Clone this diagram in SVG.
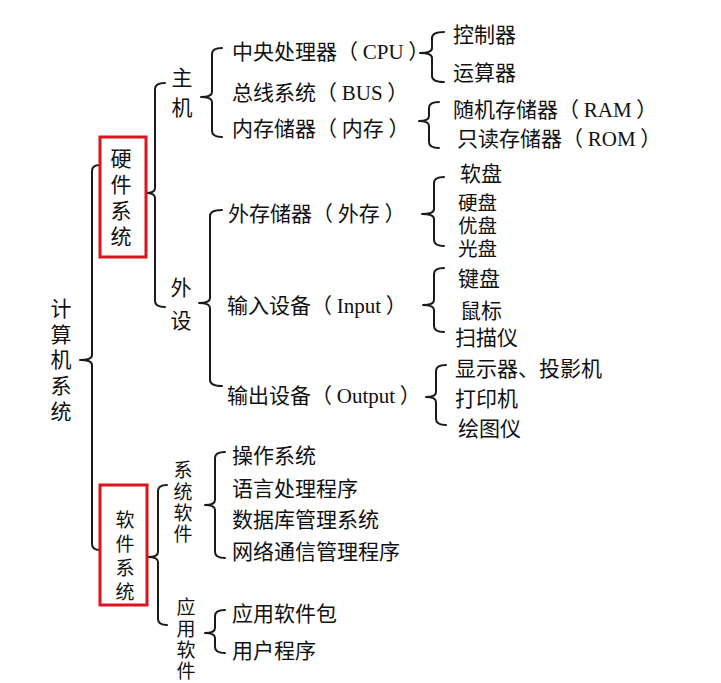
<svg xmlns="http://www.w3.org/2000/svg" width="721" height="683" viewBox="0 0 721 683">
<style>
.b{fill:none;stroke:#1a1a1a;stroke-width:2;stroke-linecap:round;stroke-linejoin:round}
.box{fill:none;stroke:#d9141c;stroke-width:3}
text{font-family:"Noto Sans CJK SC","Noto Sans CJK TC",sans-serif;font-size:21px;fill:#111}
.vt{writing-mode:vertical-rl}
.s{font-size:19px}
.t{font-size:19.5px}
.lat{font-family:"Liberation Serif",serif}
</style>
<rect width="721" height="683" fill="#fff"/>
<g id="connectors">
<path class="b" d="M100,165 Q92,165 92,171 L92,355 Q92,360 80,360 Q92,360 92,365 L92,544 Q92,550 100,550"/>
<path class="b" d="M165,83 Q155,83 155,89 L155,188 Q155,193 146,193 Q155,193 155,198 L155,301 Q155,307 165,307"/>
<path class="b" d="M222,48 Q212,48 212,54 L212,92 Q212,97 201,97 Q212,97 212,102 L212,131 Q212,137 222,137"/>
<path class="b" d="M444,32 Q432,32 432,38 L432,48 Q432,53 420,53 Q432,53 432,58 L432,76 Q432,82 444,82"/>
<path class="b" d="M439,102 Q429,102 429,108 L429,116 Q429,121 419,121 Q429,121 429,126 L429,142 Q429,148 439,148"/>
<path class="b" d="M222,210 Q210,210 210,216 L210,298 Q210,303 199,303 Q210,303 210,308 L210,380 Q210,386 222,386"/>
<path class="b" d="M444,177 Q434,177 434,183 L434,209 Q434,214 422,214 Q434,214 434,219 L434,240 Q434,246 444,246"/>
<path class="b" d="M444,268 Q434,268 434,274 L434,300 Q434,305 423,305 Q434,305 434,310 L434,326 Q434,332 444,332"/>
<path class="b" d="M446,365 Q436,365 436,371 L436,392 Q436,397 426,397 Q436,397 436,402 L436,419 Q436,425 446,425"/>
<path class="b" d="M167,485 Q158,485 158,491 L158,552 Q158,557 148,557 Q158,557 158,562 L158,619 Q158,625 167,625"/>
<path class="b" d="M225,452 Q215,452 215,458 L215,500 Q215,505 205,505 Q215,505 215,510 L215,552 Q215,558 225,558"/>
<path class="b" d="M225,610 Q215,610 215,616 L215,628 Q215,633 205,633 Q215,633 215,638 L215,647 Q215,653 225,653"/>
</g>
<g id="root"><text class="vt" x="61" y="297.5" letter-spacing="4.7">计算机系统</text></g>
<g id="hardware"><rect class="box" x="100" y="137" width="46" height="120"/><text class="vt" x="121" y="147.5" letter-spacing="5">硬件系统</text></g>
<g id="software"><rect class="box" x="100" y="485" width="47" height="120"/><text class="vt s" x="125" y="510.5" letter-spacing="5">软件系统</text></g>
<g id="host"><text class="vt" x="182" y="66.5" letter-spacing="9">主机</text></g>
<g id="peripheral"><text class="vt" x="181" y="276.5" letter-spacing="12">外设</text></g>
<g id="syssoft"><text class="vt s" x="183" y="460.5" letter-spacing="2.3">系统软件</text></g>
<g id="appsoft"><text class="vt s" x="186" y="597.5" letter-spacing="2.3">应用软件</text></g>
<g id="cpu"><text x="232" y="59">中央处理器（ <tspan class="lat">CPU</tspan> ）</text></g>
<g id="bus"><text x="232" y="100">总线系统（ <tspan class="lat">BUS</tspan> ）</text></g>
<g id="memory"><text x="232" y="136">内存储器（ 内存 ）</text></g>
<g id="control"><text x="453" y="42">控制器</text></g>
<g id="alu"><text x="453" y="80">运算器</text></g>
<g id="ram"><text x="453" y="117">随机存储器（ <tspan class="lat">RAM</tspan> ）</text></g>
<g id="rom"><text x="457" y="146">只读存储器（ <tspan class="lat">ROM</tspan> ）</text></g>
<g id="storage"><text x="228" y="221">外存储器（ 外存 ）</text></g>
<g id="input"><text x="227" y="313">输入设备（ <tspan class="lat">Input</tspan> ）</text></g>
<g id="output"><text x="227" y="403">输出设备（ <tspan class="lat">Output</tspan> ）</text></g>
<g id="floppy"><text x="460" y="181">软盘</text></g>
<g id="hdd"><text class="t" x="458" y="210">硬盘</text></g>
<g id="usb"><text class="t" x="458" y="233">优盘</text></g>
<g id="cd"><text class="t" x="458" y="256">光盘</text></g>
<g id="keyboard"><text x="458" y="286">键盘</text></g>
<g id="mouse"><text x="460" y="318">鼠标</text></g>
<g id="scanner"><text x="455" y="345">扫描仪</text></g>
<g id="display"><text x="455" y="376">显示器、投影机</text></g>
<g id="printer"><text x="455" y="406">打印机</text></g>
<g id="plotter"><text x="458" y="436">绘图仪</text></g>
<g id="os"><text x="232" y="463">操作系统</text></g>
<g id="lang"><text x="232" y="496">语言处理程序</text></g>
<g id="dbms"><text x="232" y="527">数据库管理系统</text></g>
<g id="net"><text x="232" y="559">网络通信管理程序</text></g>
<g id="pkg"><text x="232" y="621">应用软件包</text></g>
<g id="user"><text x="232" y="658">用户程序</text></g>
</svg>
